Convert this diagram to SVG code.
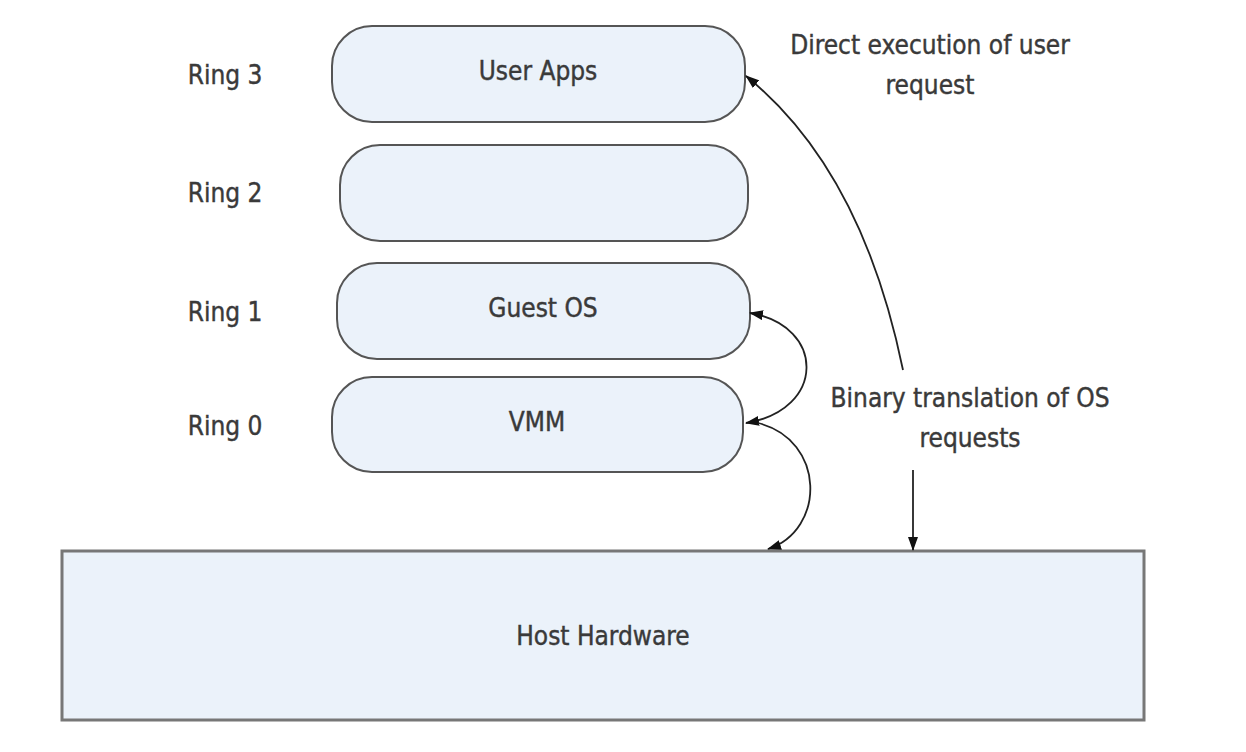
<svg xmlns="http://www.w3.org/2000/svg" width="1246" height="752" viewBox="0 0 1246 752">
<style>
.box{fill:#ebf2fa;stroke:#555;stroke-width:2}
.hw{fill:#ebf2fa;stroke:#777;stroke-width:3}
.t{font-family:"Liberation Sans Narrow","DejaVu Sans Condensed","Liberation Sans",sans-serif;font-size:26px;fill:#3a3a3a;stroke:#3a3a3a;stroke-width:0.4;text-anchor:middle}
.c{fill:none;stroke:#222;stroke-width:1.8}
</style>
<defs>
<marker id="ah" viewBox="0 0 14 10" refX="13" refY="5" markerWidth="14" markerHeight="10" markerUnits="userSpaceOnUse" orient="auto-start-reverse">
<path d="M0,0 L14,5 L0,10 z" fill="#111"/>
</marker>
</defs>
<rect width="1246" height="752" fill="#fff"/>
<g id="labels">
<text class="t" x="225" y="84">Ring 3</text>
<text class="t" x="225" y="202">Ring 2</text>
<text class="t" x="225" y="321">Ring 1</text>
<text class="t" x="225" y="435">Ring 0</text>
</g>
<g id="user-apps">
<rect class="box" x="332" y="26" width="413" height="96" rx="40" ry="40"/>
<text class="t" x="538" y="80">User Apps</text>
</g>
<g id="ring2">
<rect class="box" x="340" y="145" width="408" height="96" rx="40" ry="40"/>
</g>
<g id="guest-os">
<rect class="box" x="337" y="263" width="413" height="96" rx="40" ry="40"/>
<text class="t" x="543" y="317">Guest OS</text>
</g>
<g id="vmm">
<rect class="box" x="332" y="377" width="411" height="95" rx="40" ry="40"/>
<text class="t" x="537" y="431">VMM</text>
</g>
<g id="host-hardware">
<rect class="hw" x="62" y="551" width="1082" height="169"/>
<text class="t" x="603" y="645">Host Hardware</text>
</g>
<g id="annotations">
<text class="t" x="930" y="54">Direct execution of user</text>
<text class="t" x="930" y="94">request</text>
<text class="t" x="970" y="407">Binary translation of OS</text>
<text class="t" x="970" y="447">requests</text>
</g>
<g id="connectors">
<path class="c" d="M903,370 Q862,170 746,76" marker-end="url(#ah)"/>
<path class="c" d="M746,423 C826,410 826,326 750,313" marker-start="url(#ah)" marker-end="url(#ah)"/>
<path class="c" d="M758,423 C826,440 826,530 768,549" marker-end="url(#ah)"/>
<path class="c" d="M913,470 L913,550" marker-end="url(#ah)"/>
</g>
</svg>
